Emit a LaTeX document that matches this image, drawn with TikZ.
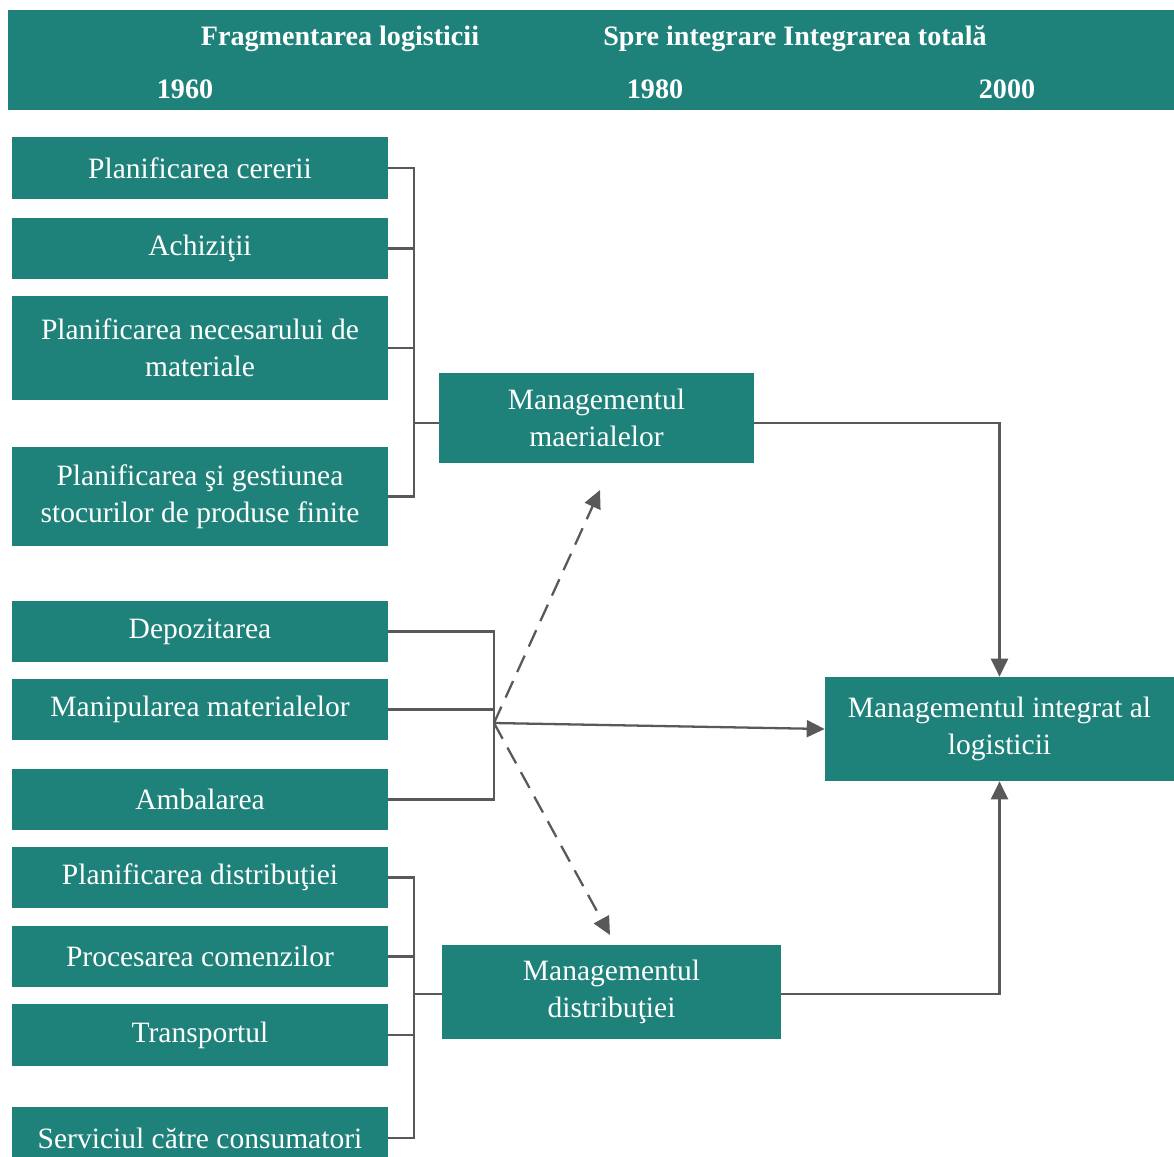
\documentclass[tikz,border=0pt]{standalone}
\usepackage{fontspec}
\setmainfont{Liberation Serif}
\usetikzlibrary{arrows.meta, calc}

\definecolor{boxteal}{RGB}{31,130,122}
\definecolor{linegray}{RGB}{89,89,89}

\tikzset{
    box/.style={fill=boxteal, text=white, inner sep=0pt, align=center,
        font=\fontsize{16.8}{21}\selectfont},
    leftbox/.style={box, minimum width=7.52cm},
    conn/.style={draw=linegray, line width=1.3pt},
    arr/.style={conn, -{Triangle[length=0.36cm, width=0.34cm]}},
    headtext/.style={text=white, font=\fontsize{16}{19}\selectfont\bfseries}
}

\begin{document}
\begin{tikzpicture}[x=0.02cm, y=-0.02cm]
        \useasboundingbox (0,0) rectangle (1174,1157);
        % header
        \fill[boxteal] (8,10) rectangle (1174,110);
        \node[headtext] (h1) at (340,39) {Fragmentarea logisticii};
        \node[headtext] (h2) at (795,39) {Spre integrare Integrarea totală};
        \node[headtext] (y1) at (185,89) {1960};
        \node[headtext] (y2) at (655,89) {1980};
        \node[headtext] (y3) at (1007,89) {2000};

        % left column
        \node[leftbox, minimum height=1.24cm] (b1) at (200,168) {Planificarea cererii};
        \node[leftbox, minimum height=1.22cm] (b2) at (200,248.5) {Achiziţii};
        \node[leftbox, minimum height=2.08cm] (b3) at (200,348) {Planificarea necesarului de\\materiale};
        \node[leftbox, minimum height=1.98cm] (b4) at (200,496.5) {Planificarea şi gestiunea\\stocurilor de produse finite};
        \node[leftbox, minimum height=1.22cm] (b5) at (200,631.5) {Depozitarea};
        \node[leftbox, minimum height=1.22cm] (b6) at (200,709.5) {Manipularea materialelor};
        \node[leftbox, minimum height=1.22cm] (b7) at (200,799.5) {Ambalarea};
        \node[leftbox, minimum height=1.22cm] (b8) at (200,877.5) {Planificarea distribuţiei};
        \node[leftbox, minimum height=1.22cm] (b9) at (200,956.5) {Procesarea comenzilor};
        \node[leftbox, minimum height=1.24cm] (b10) at (200,1035) {Transportul};
        \node[leftbox, minimum height=1.24cm] (b11) at (200,1138) {Serviciul către consumatori};

        % middle and right
        \node[box, minimum width=6.3cm, minimum height=1.8cm] (mm) at (596.5,418) {Managementul\\maerialelor};
        \node[box, minimum width=6.78cm, minimum height=1.88cm] (md) at (611.5,992) {Managementul\\distribuţiei};
        \node[box, minimum width=6.98cm, minimum height=2.08cm] (mi) at (999.5,729) {Managementul integrat al\\logisticii};

        \coordinate (bus1) at (414,423);
        \coordinate (bus2) at (494,723);
        \coordinate (bus3) at (414,994);
        \coordinate (tipm) at (600,490);
        \coordinate (tipd) at (610,935);

        \foreach \b in {b1,b2,b3,b4}
            \draw[conn] (\b.east) -| (bus1);
        \draw[conn] (bus1) -- (bus1 -| mm.west);
        \foreach \b in {b5,b6,b7}
            \draw[conn] (\b.east) -| (bus2);
        \foreach \b in {b8,b9,b10,b11}
            \draw[conn] (\b.east) -| (bus3);
        \draw[conn] (bus3) -- (bus3 -| md.west);

        \draw[arr] (bus2) -- (mi.west);
        \draw[arr, dash pattern=on 0.36cm off 0.2cm] (bus2) -- (tipm);
        \draw[arr, dash pattern=on 0.36cm off 0.2cm] (bus2) -- (tipd);
        \draw[arr] (bus1 -| mm.east) -| (mi.north);
        \draw[arr] (bus3 -| md.east) -| (mi.south);
    \end{tikzpicture}
\end{document}
